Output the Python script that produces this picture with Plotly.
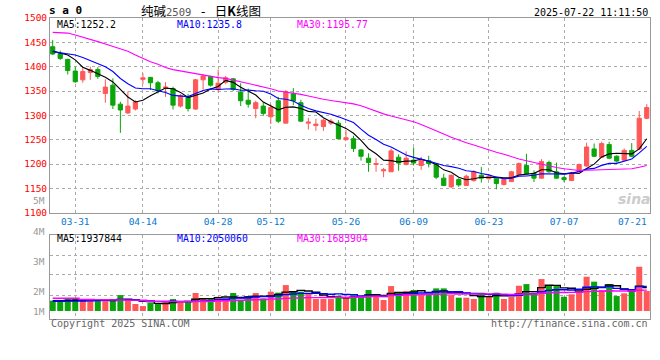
import plotly.graph_objects as go
import pandas as pd

# ---------------- data ----------------
dates = ["03-26", "03-27", "03-28", "03-31",
         "04-01", "04-02", "04-03", "04-07", "04-08", "04-09", "04-10", "04-11",
         "04-14", "04-15", "04-16", "04-17", "04-18", "04-21", "04-22", "04-23",
         "04-24", "04-25", "04-28", "04-29", "04-30",
         "05-06", "05-07", "05-08", "05-09", "05-12", "05-13", "05-14", "05-15",
         "05-16", "05-19", "05-20", "05-21", "05-22", "05-23", "05-26", "05-27",
         "05-28", "05-29", "05-30",
         "06-03", "06-04", "06-05", "06-06", "06-09", "06-10", "06-11", "06-12",
         "06-13", "06-16", "06-17", "06-18", "06-19", "06-20", "06-23", "06-24",
         "06-25", "06-26", "06-27", "06-30",
         "07-01", "07-02", "07-03", "07-04", "07-07", "07-08", "07-09", "07-10",
         "07-11", "07-14", "07-15", "07-16", "07-17", "07-18", "07-21", "07-22"]

opens = [1441, 1427, 1415, 1391, 1373, 1388, 1394, 1345, 1362, 1323,
         1305, 1313, 1374, 1378, 1367, 1356, 1355, 1319, 1338, 1313,
         1373, 1380, 1353, 1368, 1375, 1348, 1331, 1314, 1319, 1297,
         1330, 1284, 1345, 1326, 1284, 1279, 1277, 1284, 1284, 1250,
         1252, 1229, 1212, 1199, 1186, 1184, 1214, 1199, 1208, 1197,
         1207, 1200, 1171, 1153, 1168, 1156, 1166, 1177, 1170, 1171,
         1158, 1164, 1178, 1197, 1181, 1171, 1203, 1184, 1172, 1166,
         1185, 1196, 1231, 1214, 1240, 1216, 1208, 1228, 1231, 1294]
highs = [1455, 1433, 1416, 1400, 1400, 1400, 1399, 1374, 1376, 1328,
         1349, 1331, 1386, 1379, 1371, 1368, 1359, 1344, 1344, 1375,
         1385, 1381, 1394, 1381, 1377, 1366, 1355, 1330, 1326, 1323,
         1338, 1352, 1356, 1332, 1295, 1293, 1293, 1293, 1290, 1271,
         1258, 1231, 1222, 1212, 1192, 1232, 1220, 1226, 1234, 1215,
         1217, 1202, 1180, 1178, 1171, 1178, 1187, 1194, 1178, 1173,
         1170, 1186, 1203, 1221, 1187, 1210, 1207, 1203, 1175, 1184,
         1201, 1244, 1242, 1246, 1246, 1218, 1232, 1243, 1309, 1323]
lows = [1424, 1414, 1384, 1367, 1367, 1373, 1375, 1326, 1313, 1264,
        1303, 1310, 1364, 1352, 1345, 1338, 1312, 1316, 1308, 1311,
        1353, 1359, 1347, 1364, 1350, 1319, 1316, 1294, 1299, 1282,
        1284, 1284, 1321, 1287, 1271, 1268, 1268, 1280, 1251, 1249,
        1225, 1207, 1184, 1184, 1173, 1184, 1186, 1197, 1197, 1188,
        1193, 1169, 1155, 1151, 1153, 1155, 1164, 1162, 1168, 1148,
        1156, 1163, 1177, 1178, 1163, 1170, 1182, 1170, 1163, 1165,
        1184, 1194, 1214, 1212, 1210, 1203, 1206, 1214, 1229, 1292]
closes = [1426, 1417, 1392, 1369, 1390, 1394, 1380, 1358, 1321, 1311,
          1319, 1328, 1377, 1367, 1350, 1358, 1321, 1340, 1314, 1373,
          1381, 1362, 1366, 1377, 1353, 1330, 1323, 1326, 1304, 1316,
          1288, 1349, 1330, 1288, 1286, 1282, 1290, 1288, 1252, 1254,
          1232, 1216, 1203, 1201, 1188, 1227, 1202, 1212, 1202, 1208,
          1201, 1173, 1156, 1177, 1157, 1175, 1184, 1171, 1175, 1160,
          1168, 1184, 1201, 1180, 1171, 1205, 1184, 1171, 1168, 1181,
          1199, 1235, 1216, 1242, 1212, 1206, 1228, 1216, 1294, 1316]
volumes = [846000, 819000, 981000, 981000, 846000, 846000, 819000, 900000, 900000, 1305000,
           900000, 576000, 405000, 684000, 576000, 819000, 981000, 765000, 765000, 1476000,
           1035000, 1035000, 1170000, 1035000, 1476000, 819000, 1224000, 1476000, 1035000, 1584000,
           1503000, 2124000, 1638000, 1584000, 1368000, 981000, 981000, 981000, 1251000, 1170000,
           1305000, 1089000, 1719000, 1395000, 900000, 2043000, 1503000, 1638000, 1719000, 1395000,
           1368000, 1854000, 1854000, 1305000, 1089000, 1089000, 981000, 1503000, 1224000, 1503000,
           981000, 1170000, 2070000, 2205000, 1503000, 2619000, 2124000, 2043000, 1170000, 1368000,
           1503000, 2808000, 2403000, 1719000, 2205000, 1224000, 1449000, 1638000, 3627000, 1638000]

# moving-average values before enough history is visible
ma5_head = [1432, 1428, 1424, 1414]
ma10_head = [1431, 1429, 1427, 1424, 1419, 1413, 1407, 1400, 1390]
ma30_head = [1470.5, 1470, 1469, 1465, 1461, 1456, 1451.5, 1446.5, 1441, 1436.5,
             1431.5, 1424, 1416.5, 1410, 1405, 1398.5, 1394, 1391, 1388.5, 1385.5,
             1382, 1379.5, 1377.5, 1376, 1372.5, 1368.5, 1366, 1361, 1357.5]
vma5_head = [850000, 850000, 860000, 880000]
vma10_head = [800000, 800000, 810000, 810000, 820000, 830000, 850000, 870000, 900000]
vma30_head = [1040000, 1040000, 1040000, 1040000,
              950000, 940000, 930000, 920000, 910000, 900000, 895000, 890000, 880000,
              800000, 790000, 780000, 770000, 760000, 760000, 770000, 780000,
              800000, 820000, 840000, 860000, 880000, 900000, 920000, 940000]

price_ma_last = ["1252.2", "1235.8", "1195.77"]
vol_ma_last = ["1937844", "2050060", "1683904"]
ma_names = ["MA5", "MA10", "MA30"]

x_tick_labels = ["03-31", "04-14", "04-28", "05-12", "05-26", "06-09", "06-23", "07-07", "07-21"]
y_tick_labels = [1500, 1450, 1400, 1350, 1300, 1250, 1200, 1150, 1100]
vol_tick_labels = ["5M", "4M", "3M", "2M", "1M"]

# ---------------- styling ----------------
RED = "#FF5858"
GREEN = "#0AA50A"
MA_COLORS = ["#000000", "#0000FF", "#FF00FF"]
GRID = "#ababab"
FRAME = "#999999"
MONO = "DejaVu Sans Mono"
W, H = 660, 360
ML, MR, MT, MB = 50, 10, 18, 41


def px(xp):
    return (xp - ML) / (W - ML - MR)


def py(yp):
    return (H - MB - yp) / (H - MT - MB)


idx = list(range(len(dates)))


def moving(values, n, head):
    s = pd.Series(values, dtype=float).rolling(n).mean().tolist()
    return list(head) + s[len(head):]


ma_price = [moving(closes, 5, ma5_head), moving(closes, 10, ma10_head), moving(closes, 30, ma30_head)]
ma_vol = [moving(volumes, 5, vma5_head), moving(volumes, 10, vma10_head), moving(volumes, 30, vma30_head)]

bar_colors = [RED if c >= o else GREEN for o, c in zip(opens, closes)]

fig = go.Figure()
fig.add_trace(go.Candlestick(
    x=idx, open=opens, high=highs, low=lows, close=closes,
    increasing=dict(line=dict(color=RED, width=1), fillcolor=RED),
    decreasing=dict(line=dict(color=GREEN, width=1), fillcolor=GREEN),
    whiskerwidth=0, xaxis="x", yaxis="y", showlegend=False))
for m, col in zip(ma_price, MA_COLORS):
    fig.add_trace(go.Scatter(x=idx, y=m, mode="lines", line=dict(color=col, width=1.1),
                             xaxis="x", yaxis="y", showlegend=False, hoverinfo="skip"))

fig.add_trace(go.Bar(x=idx, y=volumes, marker=dict(color=bar_colors, line=dict(width=0)),
                     width=0.8, xaxis="x2", yaxis="y2", showlegend=False))
for m, col in zip(ma_vol, MA_COLORS):
    fig.add_trace(go.Scatter(x=idx, y=m, mode="lines", line=dict(color=col, width=1.4, shape="hvh"),
                             xaxis="x2", yaxis="y2", showlegend=False, hoverinfo="skip"))

tick_idx = [dates.index(d) for d in x_tick_labels]
grid_idx = tick_idx[:-1]
grid_txt = x_tick_labels[:-1]

x_range = [-0.36, 79.43]
common_x = dict(range=x_range, showgrid=True, gridcolor=GRID, griddash="dot", gridwidth=1,
                showline=True, mirror=True, linecolor=FRAME, linewidth=1, zeroline=False,
                ticks="", fixedrange=True)

fig.update_layout(
    width=W, height=H, margin=dict(l=ML, r=MR, t=MT, b=MB),
    paper_bgcolor="white", plot_bgcolor="white", showlegend=False,
    boxgap=0.2, bargap=0.2,
    xaxis=dict(domain=[0, 1], anchor="y", tickvals=grid_idx, ticktext=grid_txt,
               tickfont=dict(family=MONO, size=9.5, color="#0A78D0"),
               rangeslider=dict(visible=False), **common_x),
    yaxis=dict(domain=[py(212.7), 1], range=[1100, 1500], tickvals=y_tick_labels,
               ticktext=[str(v) for v in y_tick_labels],
               tickfont=dict(family=MONO, size=9.5, color="#FF0000"),
               showgrid=True, gridcolor=GRID, griddash="dot", gridwidth=1,
               showline=True, mirror=True, linecolor=FRAME, linewidth=1, zeroline=False,
               ticks="", fixedrange=True),
    xaxis2=dict(domain=[0, 1], anchor="y2", matches="x", tickvals=grid_idx,
                showticklabels=False, **common_x),
    yaxis2=dict(domain=[0, py(234.5)], range=[-656000, 6270000],
                tickvals=[1287000, 2951000, 4566000], showticklabels=False,
                showgrid=True, gridcolor=GRID, griddash="dot", gridwidth=1,
                showline=True, mirror=True, linecolor=FRAME, linewidth=1, zeroline=False,
                ticks="", fixedrange=True),
)

ann = []


def text(t, x, y, xanchor="left", size=9.5, color="#000000", family=MONO, **kw):
    ann.append(dict(text=t, x=px(x), y=py(y), xref="paper", yref="paper",
                    xanchor=xanchor, yanchor="middle", showarrow=False,
                    font=dict(family=family, size=size, color=color), **kw))


# last x label (kept inside the frame)
text(x_tick_labels[-1], 648.5, 221.5, xanchor="right", color="#0A78D0")

# MA legends
for k, (name, col) in enumerate(zip(ma_names, MA_COLORS)):
    text(f"{name}:{price_ma_last[k]}", 55 + 120 * k, 24, color=col, size=9.8)
    text(f"{name}:{vol_ma_last[k]}", 55 + 120 * k, 238, color=col, size=9.8)

# volume scale labels
for lab, yy in zip(vol_tick_labels, [200, 231, 261, 291, 311]):
    text(lab, 47, yy, xanchor="right", color="#999999")

# header
text("<b>s a 0</b>", 47, 11, size=11)
text("纯碱<span style='font-family:DejaVu Sans Mono;color:#555555;font-size:10.5px'>2509</span>"
     "<span style='font-family:DejaVu Sans Mono;font-size:13px'> - </span>日<b>K</b>线图",
     139, 11, size=12.5, family="Noto Sans CJK SC")
text("2025-07-22 11:11:50", 650, 12, xanchor="right", size=10)

# footer
text("Copyright 2025 SINA.COM", 49, 323.5, size=10, color="#666666")
text("http://finance.sina.com.cn", 650, 323.5, xanchor="right", size=10, color="#666666")

# watermark
text("<i><b>sina</b></i>", 634, 199, xanchor="center", size=14, color="#cccccc", family="DejaVu Sans")

fig.update_layout(annotations=ann)
fig.write_html("out.html", config={"displayModeBar": False},
               post_script="document.body.style.margin='0';document.body.style.overflow='hidden';")
